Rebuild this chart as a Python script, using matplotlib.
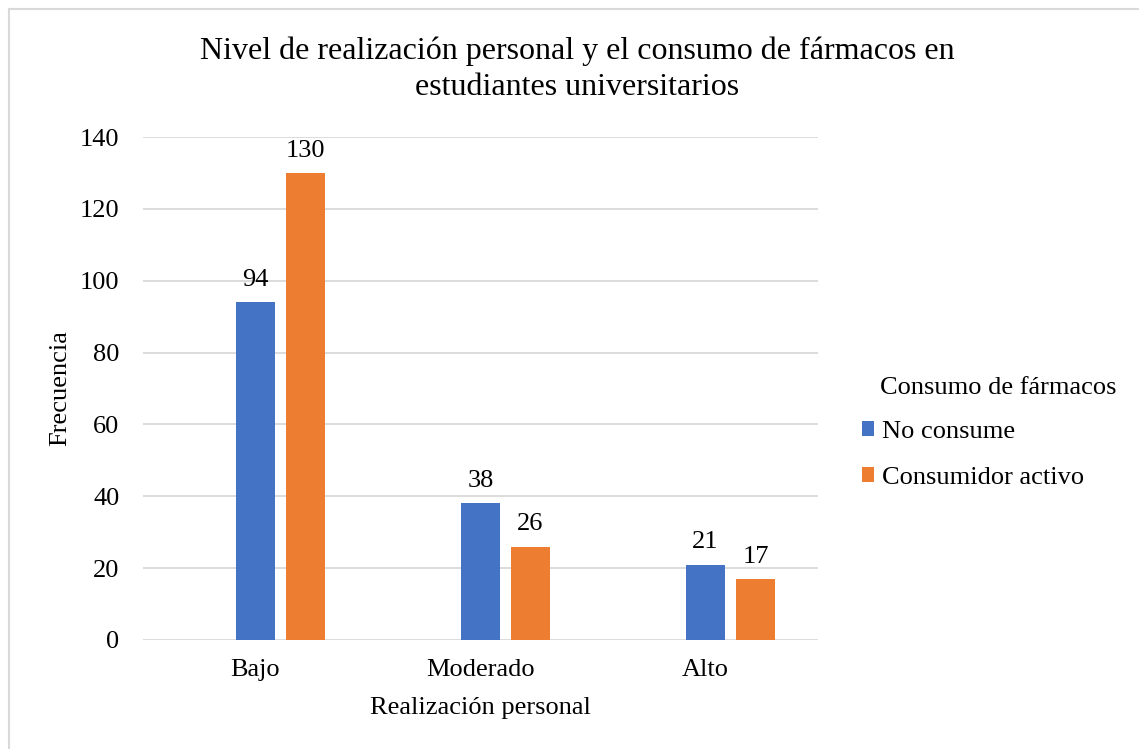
import matplotlib
matplotlib.use("Agg")
import matplotlib.pyplot as plt
from matplotlib.lines import Line2D
import numpy as np

plt.rcParams['font.family'] = ['Liberation Serif', 'DejaVu Serif']

categories = ["Bajo", "Moderado", "Alto"]
no_consume = [94, 38, 21]
consumidor_activo = [130, 26, 17]
series_names = ["No consume", "Consumidor activo"]
legend_title = "Consumo de fármacos"
yticks = [0, 20, 40, 60, 80, 100, 120, 140]

blue = "#4472C4"
orange = "#ED7D31"
grid_c = "#D9D9D9"

fig = plt.figure(figsize=(11.39, 7.49), dpi=100)
ax = fig.add_axes([143/1139, 1-640/749, (818-143)/1139, (640-137)/749])

x = np.arange(len(categories))
w = 0.173
off = 0.222
b1 = ax.bar(x, no_consume, width=w, color=blue, zorder=3, label=series_names[0])
b2 = ax.bar(x + off, consumidor_activo, width=w, color=orange, zorder=3, label=series_names[1])

for bars in (b1, b2):
    for r in bars:
        ax.annotate(f"{int(r.get_height())}", (r.get_x() + r.get_width()/2, r.get_height()),
                    xytext=(0, 8), textcoords="offset points", ha="center", va="bottom",
                    fontsize=19, color="#000000")

ax.set_xlim(-0.5, 2.5)
ax.set_ylim(0, 140)
ax.set_yticks(yticks)
ax.set_xticks(x)
ax.set_xticklabels(categories)
ax.tick_params(axis='both', length=0, labelsize=19, colors="#000000")
ax.tick_params(axis='y', pad=17)
ax.tick_params(axis='x', pad=14)
ax.grid(axis='y', color=grid_c, linewidth=1.3, zorder=0)
for s in ax.spines.values():
    s.set_visible(False)

ax.set_ylabel("Frecuencia", fontsize=19, labelpad=6)
ax.set_xlabel("Realización personal", fontsize=19, labelpad=11)

fig.text(577/1139, 1-69/749, "Nivel de realización personal y el consumo de fármacos en\nestudiantes universitarios",
         ha="center", va="center", fontsize=23, linespacing=1.3)

fig.text(880/1139, 1-388/749, legend_title, ha="left", va="center", fontsize=19)
leg = fig.legend(handles=[b1, b2], labels=series_names,
                 loc="center left", bbox_to_anchor=(838/1139, 1-455/749), frameon=False,
                 fontsize=19, handlelength=0.48, handleheight=0.48,
                 handletextpad=0.3, labelspacing=0.9)

fig.add_artist(Line2D([9/1139, 9/1139], [0, 1-9/749], color="#D9D9D9", linewidth=1.5, transform=fig.transFigure))
fig.add_artist(Line2D([9/1139, 1], [1-9/749, 1-9/749], color="#D9D9D9", linewidth=1.5, transform=fig.transFigure))

fig.savefig("out.png", dpi=100)
